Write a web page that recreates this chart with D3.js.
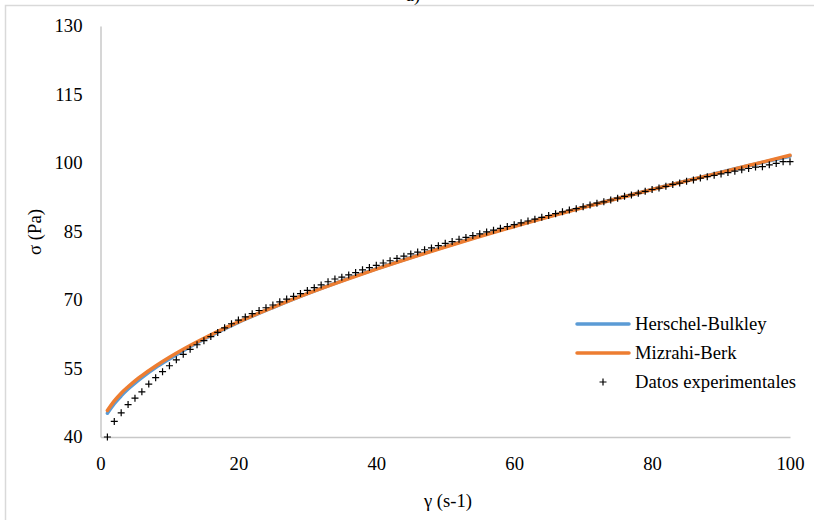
<!DOCTYPE html>
<html>
<head>
<meta charset="utf-8">
<script src="https://cdn.jsdelivr.net/npm/d3@7"></script>
<style>
  body { margin: 0; background: #fff; }
  svg { display: block; }
  text { font-family: "Liberation Serif", "Times New Roman", serif; fill: #000; }
</style>
</head>
<body>
<script>
'use strict'

// shear rate (s-1) of the measured points
const shearRate = [
  1, 2, 3, 4, 5, 6, 7, 8, 9, 10, 11, 12, 13, 14, 15, 16, 17, 18, 19, 20,
  21, 22, 23, 24, 25, 26, 27, 28, 29, 30, 31, 32, 33, 34, 35, 36, 37, 38, 39, 40,
  41, 42, 43, 44, 45, 46, 47, 48, 49, 50, 51, 52, 53, 54, 55, 56, 57, 58, 59, 60,
  61, 62, 63, 64, 65, 66, 67, 68, 69, 70, 71, 72, 73, 74, 75, 76, 77, 78, 79, 80,
  81, 82, 83, 84, 85, 86, 87, 88, 89, 90, 91, 92, 93, 94, 95, 96, 97, 98, 99, 100
]
const stressExp = [
  40.0, 43.4, 45.3, 47.1, 48.5, 49.9, 51.6, 53.0, 54.3, 55.6,
  56.9, 58.1, 59.2, 60.2, 61.1, 62.0, 62.9, 63.9, 64.8, 65.6,
  66.3, 67.0, 67.7, 68.3, 68.9, 69.6, 70.2, 70.8, 71.4, 72.1,
  72.7, 73.3, 74.0, 74.6, 75.0, 75.5, 76.0, 76.6, 77.1, 77.6,
  78.1, 78.6, 79.1, 79.6, 80.1, 80.5, 81.0, 81.4, 81.9, 82.4,
  82.8, 83.3, 83.7, 84.1, 84.5, 84.9, 85.3, 85.7, 86.1, 86.5,
  86.9, 87.3, 87.7, 88.1, 88.5, 88.9, 89.3, 89.7, 90.0, 90.4,
  90.8, 91.2, 91.5, 91.9, 92.3, 92.7, 93.0, 93.4, 93.8, 94.2,
  94.5, 94.9, 95.3, 95.6, 96.0, 96.3, 96.7, 97.0, 97.3, 97.6,
  97.9, 98.2, 98.5, 98.8, 99.1, 99.2, 99.6, 99.9, 100.3, 100.3
]

// model curves, sampled where read
const shearModel = [1, 2, 3, 4, 5, 6, 8, 10, 12, 15, 20, 25, 30, 35, 40, 50, 60, 70, 80, 90, 100]
const stressHB = [45.2, 47.3, 49.0, 50.5, 51.8, 53.0, 55.2, 57.1, 58.9, 61.4, 65.1, 68.35, 71.4, 74.2, 76.8, 81.7, 86.2, 90.3, 94.2, 98.0, 101.5]
const stressMB = [45.8, 47.9, 49.6, 51.0, 52.3, 53.45, 55.55, 57.45, 59.2, 61.6, 65.2, 68.4, 71.4, 74.15, 76.75, 81.6, 86.1, 90.25, 94.2, 97.95, 101.7]

const xTicks = [0, 20, 40, 60, 80, 100]
const yTicks = [40, 55, 70, 85, 100, 115, 130]

const seriesNames = ['Herschel-Bulkley', 'Mizrahi-Berk', 'Datos experimentales']
const colors = ['#5b9bd5', '#ed7d31', '#000']

const W = 814, H = 520
const svg = d3.select('body').append('svg').attr('width', W).attr('height', H)

// chart frame, runs off the right and bottom of the picture
svg.append('rect')
    .attr('x', 5.5).attr('y', 5.5)
    .attr('width', W + 20).attr('height', H + 20)
    .attr('fill', 'none').attr('stroke', '#d9d9d9').attr('stroke-width', 1.5)

// title is cut off by the top edge
svg.append('text').attr('x', 413).attr('y', 1)
    .attr('text-anchor', 'middle').style('font-size', '18.67px').text('a)')

const x = d3.scaleLinear().domain([0, 100]).range([100.5, 790])
const y = d3.scaleLinear().domain([40, 130]).range([437, 26])

const gx = svg.append('g').attr('transform', `translate(0,${y(40)})`)
    .call(d3.axisBottom(x).tickValues(xTicks).tickSize(0).tickPadding(20))
const gy = svg.append('g').attr('transform', `translate(${x(0)},0)`)
    .call(d3.axisLeft(y).tickValues(yTicks).tickSize(0).tickPadding(18))

;[gx, gy].forEach(g => {
    g.select('.domain').attr('stroke', '#c8c8c8').attr('stroke-width', 1.5)
    g.selectAll('text').style('font-size', '18.67px').style('font-family', '"Liberation Serif", serif')
})

svg.append('text').attr('x', 448).attr('y', 507)
    .attr('text-anchor', 'middle').style('font-size', '18.67px').text('γ (s-1)')
svg.append('text')
    .attr('transform', 'translate(41,232) rotate(-90)')
    .attr('text-anchor', 'middle').style('font-size', '18.67px').text('σ (Pa)')

// model curves
const line = d3.line().x(d => x(d[0])).y(d => y(d[1])).curve(d3.curveMonotoneX)
;[stressHB, stressMB].forEach((vals, i) => {
    svg.append('path')
        .datum(shearModel.map((g, j) => [g, vals[j]]))
        .attr('d', line)
        .attr('fill', 'none')
        .attr('stroke', colors[i])
        .attr('stroke-width', 3.5)
        .attr('stroke-linecap', 'round')
})

// experimental points as + markers
const s = 3.5
svg.append('g').selectAll('path')
    .data(shearRate.map((g, i) => [g, stressExp[i]]))
    .enter()
    .append('path')
    .attr('d', d => `M${x(d[0]) - s},${y(d[1])}h${2 * s}M${x(d[0])},${y(d[1]) - s}v${2 * s}`)
    .attr('stroke', '#000')
    .attr('stroke-width', 1.2)

// legend
const legendY = [324, 353, 382]
const lg = svg.append('g')
seriesNames.forEach((name, i) => {
    if (i < 2) {
        lg.append('line')
            .attr('x1', 577).attr('x2', 629)
            .attr('y1', legendY[i]).attr('y2', legendY[i])
            .attr('stroke', colors[i]).attr('stroke-width', 3.5)
            .attr('stroke-linecap', 'round')
    } else {
        lg.append('path')
            .attr('d', `M${603 - s},${legendY[i]}h${2 * s}M603,${legendY[i] - s}v${2 * s}`)
            .attr('stroke', '#000').attr('stroke-width', 1.2)
    }
    lg.append('text')
        .attr('x', 635).attr('y', legendY[i]).attr('dy', '0.32em')
        .style('font-size', '18.67px').text(name)
})
</script>
</body>
</html>
